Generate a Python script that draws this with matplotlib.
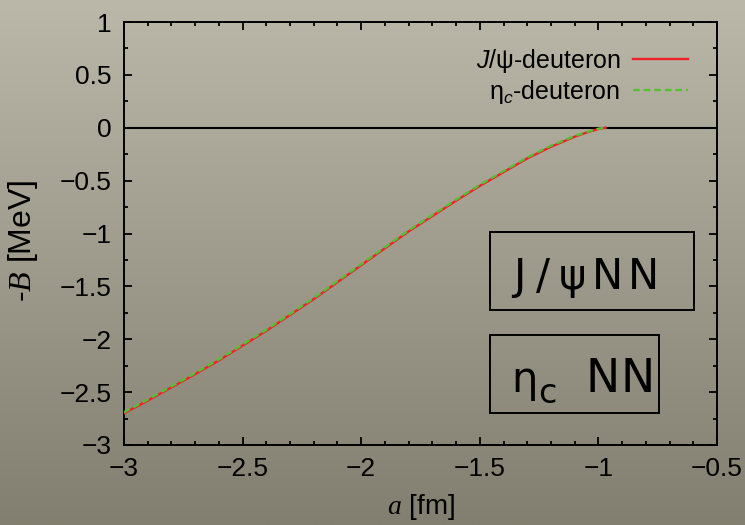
import numpy as np
import matplotlib
matplotlib.use("Agg")
import matplotlib.pyplot as plt
from matplotlib.lines import Line2D
from matplotlib.patches import Rectangle

plt.rcParams['font.family'] = ['Liberation Sans', 'DejaVu Sans']
plt.rcParams['mathtext.fontset'] = 'custom'
plt.rcParams['mathtext.it'] = 'Liberation Sans:italic'
plt.rcParams['mathtext.rm'] = 'Liberation Sans'
plt.rcParams['mathtext.tt'] = 'Liberation Serif:italic'

# ---- data ----
a_fm = [-3.0, -2.9, -2.8, -2.7, -2.6, -2.5, -2.4, -2.3, -2.2, -2.1, -2.0,
        -1.9, -1.8, -1.7, -1.6, -1.5, -1.4, -1.3, -1.2, -1.1, -1.05, -1.0, -0.97]
B_jpsi = [-2.70, -2.58, -2.455, -2.33, -2.20, -2.06, -1.92, -1.77, -1.62, -1.46, -1.30,
          -1.14, -0.98, -0.835, -0.69, -0.55, -0.42, -0.29, -0.18, -0.085, -0.045, -0.012, 0.0]
B_etac = [-2.69, -2.57, -2.445, -2.32, -2.19, -2.05, -1.91, -1.76, -1.61, -1.45, -1.29,
          -1.13, -0.97, -0.825, -0.68, -0.54, -0.41, -0.28, -0.17, -0.078, -0.04, -0.009, 0.0]
labels = ['$J$/ψ-deuteron', 'η$_c$-deuteron']
xticks = [-3, -2.5, -2, -1.5, -1, -0.5]
xticklabels = ['−3', '−2.5', '−2', '−1.5', '−1', '−0.5']
yticks = [1, 0.5, 0, -0.5, -1, -1.5, -2, -2.5, -3]
yticklabels = ['1', '0.5', '0', '−0.5', '−1', '−1.5', '−2', '−2.5', '−3']

RED = '#ee2228'
GREEN = '#55c030'
DASH = (0, (2.8, 1.7))

fig = plt.figure(figsize=(7.45, 5.25), dpi=100)

# background gradient
bg = fig.add_axes([0, 0, 1, 1], zorder=-10)
top = np.array([187, 184, 170]) / 255.0
bot = np.array([130, 127, 112]) / 255.0
t = np.linspace(0, 1, 256)[:, None]
grad = (top[None, :] * (1 - t) + bot[None, :] * t)[:, None, :]
bg.imshow(grad, aspect='auto', extent=[0, 1, 0, 1])
bg.axis('off')

ax = fig.add_axes([124/745, 1-445/525, (717-124)/745, (445-22)/525])
ax.set_facecolor('none')

ax.axhline(0, color='black', lw=1.5, zorder=1)
ax.plot(a_fm, B_jpsi, color=RED, lw=1.7, zorder=3)
ax.plot(a_fm, B_etac, color=GREEN, lw=1.7, ls=DASH, zorder=4)

ax.set_xlim(-3, -0.5)
ax.set_ylim(-3, 1)
ax.set_xticks(xticks)
ax.set_yticks(yticks)
ax.set_xticklabels(xticklabels)
ax.set_yticklabels(yticklabels)
ax.set_xticks(np.arange(-3, -0.49, 0.1), minor=True)
ax.set_yticks(np.arange(-3, 1.01, 0.25), minor=True)
ax.tick_params(which='both', direction='in', top=True, right=True, labelsize=19,
               width=1.3, colors='black')
ax.tick_params(which='major', length=6, pad=9)
ax.tick_params(which='minor', length=3)
for s in ax.spines.values():
    s.set_linewidth(1.4)

ax.set_xlabel(r'$\mathtt{a}$ [fm]', fontsize=20)
ax.set_ylabel(r'-$\mathtt{B}$ [MeV]', fontsize=23)
ax.xaxis.set_label_coords(0.5, -0.112)
ax.yaxis.set_label_coords(-0.142, 0.482)

handles = [Line2D([], [], color=RED, lw=1.7),
           Line2D([], [], color=GREEN, lw=1.7, ls=DASH)]
ax.legend(handles, labels, loc='upper right', frameon=False, markerfirst=False,
          fontsize=18, handlelength=2.2, handletextpad=0.5, labelspacing=0.12,
          borderaxespad=0, borderpad=0, bbox_to_anchor=(0.951, 0.942))

# boxes with labels
ax.add_patch(Rectangle((-1.457, -1.72), -0.597 + 1.457, -0.985 + 1.72,
                       fill=False, ec='black', lw=1.4, zorder=5))
ax.add_patch(Rectangle((-1.457, -2.70), -0.7445 + 1.457, -1.96 + 2.70,
                       fill=False, ec='black', lw=1.4, zorder=5))
box_font = dict(family='DejaVu Sans', ha='center', va='baseline', zorder=6)
for ch, xc in zip(['J', '/', 'ψ', 'N', 'N'], [-1.335, -1.232, -1.110, -0.964, -0.812]):
    ax.text(xc, -1.525, ch, fontsize=30, **box_font)
ax.text(-1.310, -2.50, 'η', fontsize=30, **box_font)
ax.text(-1.215, -2.604, 'c', fontsize=24, **box_font)
for ch, xc in zip(['N', 'N'], [-0.981, -0.833]):
    ax.text(xc, -2.50, ch, fontsize=33, **box_font)

fig.savefig('out.png', dpi=100)
